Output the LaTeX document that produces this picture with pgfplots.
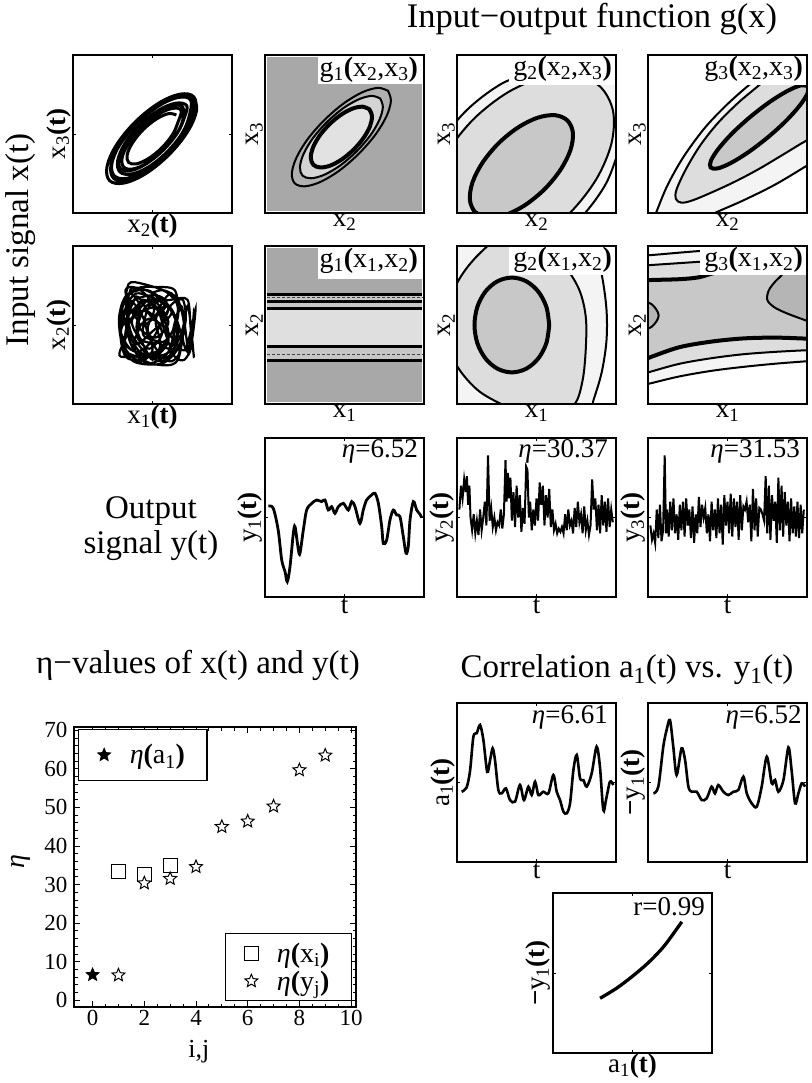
\documentclass[border=0pt]{standalone}
\usepackage{fontspec}
\setmainfont{Liberation Serif}
\usepackage{pgfplots}
\pgfplotsset{compat=1.18}
\newcommand{\lab}{\fontsize{27}{30}\selectfont}
\newcommand{\glab}{\fontsize{28}{30}\selectfont}
\newcommand{\titf}{\fontsize{33}{36}\selectfont}
\newcommand{\toptf}{\fontsize{34.5}{37}\selectfont}
\newcommand{\bigf}{\fontsize{33}{36}\selectfont}
\newcommand{\tickf}{\fontsize{23}{26}\selectfont}
\newcommand{\legf}{\fontsize{28}{30}\selectfont}
\newcommand{\B}[1]{\textbf{#1}}
\newcommand{\sub}[1]{\textsubscript{#1}}
\definecolor{cA}{gray}{0.66}
\definecolor{cA2}{gray}{0.69}
\definecolor{cB}{gray}{0.785}
\definecolor{cC}{gray}{0.865}
\definecolor{cD}{gray}{0.955}
\definecolor{cE}{gray}{0.71}
\definecolor{cG1}{gray}{0.83}
\definecolor{cG2}{gray}{0.885}
\definecolor{cH}{gray}{0.78}
\definecolor{cI}{gray}{0.875}
\pgfdeclareplotmark{pstar}{%
 \pgfpathmoveto{\pgfpointpolar{90}{\pgfplotmarksize}}%
 \pgfpathlineto{\pgfpointscale{0.45}{\pgfpointpolar{126}{\pgfplotmarksize}}}%
 \pgfpathlineto{\pgfpointpolar{162}{\pgfplotmarksize}}%
 \pgfpathlineto{\pgfpointscale{0.45}{\pgfpointpolar{198}{\pgfplotmarksize}}}%
 \pgfpathlineto{\pgfpointpolar{234}{\pgfplotmarksize}}%
 \pgfpathlineto{\pgfpointscale{0.45}{\pgfpointpolar{270}{\pgfplotmarksize}}}%
 \pgfpathlineto{\pgfpointpolar{306}{\pgfplotmarksize}}%
 \pgfpathlineto{\pgfpointscale{0.45}{\pgfpointpolar{342}{\pgfplotmarksize}}}%
 \pgfpathlineto{\pgfpointpolar{18}{\pgfplotmarksize}}%
 \pgfpathlineto{\pgfpointscale{0.45}{\pgfpointpolar{54}{\pgfplotmarksize}}}%
 \pgfpathclose
 \pgfusepathqfillstroke}
\pgfplotsset{
 pan/.style={anchor=north west, width=159pt, height=158pt, scale only axis,
  xmin=0,xmax=1,ymin=0,ymax=1, axis line style={line width=2.3pt},
  xtick=\empty, ytick=\empty, label style={font=\lab},
  xlabel style={at={(axis description cs:0.5,0)}, anchor=north, inner sep=1pt},
  ylabel style={at={(axis description cs:0,0.5)}, anchor=south, inner sep=2pt},
  axis on top},
 tk/.style={xtick={0.5}, ytick={0.5}, xticklabels={}, yticklabels={}, major tick length=3pt, tick style={line width=0.9pt, black}},
 cthin/.style={draw=black, line width=2pt, smooth, tension=0.55},
 cthick/.style={draw=black, line width=4pt, smooth, tension=0.55},
}
\begin{document}
\begin{tikzpicture}
\useasboundingbox (0,0) rectangle (811pt,-1083pt);
% ---------- titles ----------
\node[font=\toptf, anchor=base] at (592pt,-28pt) {Input−output function g(x)};
\node[font=\bigf, rotate=90, anchor=base] at (28pt,-240pt) {Input signal x(t)};
\node[font=\titf, anchor=base] at (151pt,-518pt) {Output};
\node[font=\titf, anchor=base] at (151pt,-553pt) {signal y(t)};
\node[font=\titf, anchor=base] at (198pt,-673pt) {η−values of x(t) and y(t)};
\node[font=\titf, anchor=base] at (627pt,-677pt) {Correlation a\sub{1}(t) vs. y\sub{1}(t)};
% ---------- row 1 ----------
\begin{axis}[pan, tk, at={(73pt,-55pt)}, xlabel={x\sub{2}\B{(t)}}, ylabel={x\sub{3}\B{(t)}}]
\addplot[line width=3pt, smooth, tension=0.6] coordinates {
(0.65,0.62) (0.601,0.629) (0.525,0.595) (0.442,0.528) (0.375,0.445) (0.341,0.369) (0.35,0.32) (0.399,0.311) (0.475,0.345) (0.558,0.412) (0.625,0.495) (0.659,0.571)
(0.68,0.65) (0.621,0.661) (0.529,0.621) (0.43,0.54) (0.349,0.441) (0.309,0.349) (0.32,0.29) (0.379,0.279) (0.471,0.319) (0.57,0.40) (0.651,0.499) (0.691,0.591)
(0.69,0.67) (0.6265,0.6815) (0.5275,0.6375) (0.42,0.55) (0.3325,0.4425) (0.2885,0.3435) (0.30,0.28) (0.3635,0.2685) (0.4625,0.3125) (0.57,0.40) (0.6575,0.5075) (0.7015,0.6065)
(0.715,0.68) (0.645,0.695) (0.536,0.649) (0.42,0.555) (0.326,0.439) (0.281,0.331) (0.295,0.26) (0.366,0.246) (0.474,0.291) (0.59,0.385) (0.684,0.501) (0.730,0.610)
(0.74,0.715) (0.661,0.731) (0.538,0.677) (0.405,0.57) (0.298,0.437) (0.245,0.315) (0.26,0.235) (0.340,0.220) (0.462,0.273) (0.595,0.38) (0.702,0.513) (0.756,0.636)
(0.755,0.72) (0.6715,0.7365) (0.543,0.6816) (0.405,0.57) (0.293,0.4316) (0.2385,0.3035) (0.255,0.22) (0.3385,0.2035) (0.4676,0.2584) (0.605,0.37) (0.7166,0.5084) (0.7715,0.6365)
(0.76,0.735) (0.672,0.752) (0.537,0.694) (0.39,0.575) (0.272,0.429) (0.214,0.294) (0.23,0.205) (0.319,0.189) (0.454,0.247) (0.60,0.365) (0.719,0.512) (0.777,0.647) (0.76,0.735)};
\end{axis}
\begin{axis}[pan, at={(265pt,-55pt)}, xmin=-0.012, xmax=1.012, ymin=-0.012, ymax=1.012, xlabel={x\sub{2}}, ylabel={x\sub{3}}]
\addplot[fill=cA, draw=none] coordinates {(0,0) (1,0) (1,1) (0,1)} -- cycle;
\addplot[cthin, fill=cA2] coordinates {(0.78,0.78) (0.715,0.799) (0.614,0.77) (0.493,0.697) (0.37,0.59) (0.263,0.467) (0.19,0.346) (0.161,0.245) (0.18,0.18) (0.245,0.161) (0.346,0.19) (0.467,0.263) (0.59,0.37) (0.697,0.493) (0.77,0.614) (0.799,0.715) (0.78,0.78)} -- cycle;
\addplot[cthin, fill=cG1] coordinates {(0.73,0.73) (0.675,0.747) (0.59,0.724) (0.488,0.664) (0.385,0.575) (0.296,0.472) (0.236,0.37) (0.213,0.285) (0.23,0.23) (0.285,0.213) (0.37,0.236) (0.472,0.296) (0.575,0.385) (0.664,0.488) (0.724,0.59) (0.747,0.675) (0.73,0.73)} -- cycle;
\addplot[cthick, fill=cG2] coordinates {(0.66,0.66) (0.615,0.677) (0.55,0.664) (0.475,0.623) (0.40,0.56) (0.337,0.485) (0.296,0.41) (0.283,0.345) (0.30,0.30) (0.345,0.283) (0.41,0.296) (0.485,0.337) (0.56,0.40) (0.623,0.475) (0.664,0.55) (0.677,0.615) (0.66,0.66)} -- cycle;
\fill[white] (axis cs:0.33,0.823) rectangle (axis cs:1.012,1.012);
\node[anchor=base east, font=\glab, inner sep=0pt] at (axis cs:0.975,0.873) {g\sub{1}\B{(}x\sub{2},x\sub{3}\B{)}};
\end{axis}
\begin{axis}[pan, at={(457pt,-55pt)}, xlabel={x\sub{2}}, ylabel={x\sub{3}}]
\addplot[cthin, fill=cD] coordinates {(-0.219,-0.061) (-0.125,-0.235) (0.049,-0.329) (0.2775,-0.3275) (0.525,-0.231) (0.755,-0.055) (0.931,0.175) (1.0275,0.4225) (1.12,0.66) (1.15,1.1) (0.8,1.15) (0.5325,0.9175) (0.285,0.821) (0.055,0.645) (-0.121,0.415) (-0.2175,0.1675) (-0.219,-0.061)} -- cycle;
\addplot[cthin, fill=cC] coordinates {(-0.095,-0.205) (0.058,-0.282) (0.2635,-0.2705) (0.4905,-0.1735) (0.705,-0.005) (0.8735,0.2095) (0.9705,0.4365) (0.982,0.642) (0.905,0.795) (0.752,0.872) (0.5465,0.8605) (0.3195,0.7635) (0.105,0.595) (-0.0635,0.3805) (-0.1605,0.1535) (-0.172,-0.052) (-0.095,-0.205)} -- cycle;
\addplot[cthick, fill=cB] coordinates {(0.193,-0.029) (0.303,-0.013) (0.428,0.05) (0.55,0.15) (0.65,0.272) (0.713,0.397) (0.729,0.507) (0.695,0.585) (0.617,0.619) (0.507,0.603) (0.382,0.54) (0.26,0.44) (0.16,0.318) (0.097,0.193) (0.081,0.083) (0.115,0.005) (0.193,-0.029)} -- cycle;
\fill[white] (axis cs:0.327,0.81) rectangle (axis cs:1,1);
\node[anchor=base east, font=\glab, inner sep=0pt] at (axis cs:0.975,0.873) {g\sub{2}\B{(}x\sub{2},x\sub{3}\B{)}};
\end{axis}
\begin{axis}[pan, at={(648pt,-55pt)}, xlabel={x\sub{2}}, ylabel={x\sub{3}}]
\addplot[cthin, fill=cD] coordinates {(-0.05,-0.25) (0.02,-0.07) (0.05,0.0) (0.12,0.17) (0.22,0.35) (0.35,0.53) (0.48,0.67) (0.60,0.78) (0.72,0.88) (0.82,0.97) (0.9,1.08) (1.0,1.2) (1.3,1.2) (1.3,0.45) (1.1,0.36) (1.0,0.30) (0.8,0.18) (0.6,0.08) (0.42,0.0) (0.33,-0.05) (0.15,-0.25) (-0.05,-0.25)} -- cycle;
\addplot[cthin, fill=cC] coordinates {(1.3,0.60) (1.1,0.50) (1.0,0.46) (0.85,0.37) (0.7,0.28) (0.55,0.2) (0.40,0.13) (0.28,0.08) (0.21,0.065) (0.175,0.09) (0.18,0.15) (0.24,0.28) (0.33,0.43) (0.44,0.57) (0.57,0.70) (0.70,0.81) (0.80,0.9) (0.9,1.05) (1.0,1.2) (1.3,1.2) (1.3,0.60)} -- cycle;
\addplot[cthick, fill=cB] coordinates {(1.006,0.802) (0.962,0.808) (0.878,0.773) (0.767,0.704) (0.645,0.610) (0.532,0.507) (0.445,0.409) (0.396,0.332) (0.394,0.288) (0.438,0.282) (0.522,0.317) (0.633,0.386) (0.755,0.480) (0.868,0.583) (0.955,0.681) (1.004,0.758) (1.006,0.802)} -- cycle;
\fill[white] (axis cs:0.327,0.81) rectangle (axis cs:1,1);
\node[anchor=base east, font=\glab, inner sep=0pt] at (axis cs:0.975,0.873) {g\sub{3}\B{(}x\sub{2},x\sub{3}\B{)}};
\end{axis}
% ---------- row 2 ----------
\begin{axis}[pan, tk, at={(73pt,-246pt)}, xlabel={x\sub{1}\B{(t)}}, ylabel={x\sub{2}\B{(t)}}]
\addplot[line width=2.2pt, smooth, tension=0.5] coordinates {
(0.45,0.50) (0.58,0.62) (0.40,0.70) (0.32,0.55) (0.42,0.33) (0.60,0.30) (0.66,0.48) (0.55,0.68) (0.36,0.64) (0.30,0.42) (0.38,0.27) (0.57,0.26) (0.68,0.40) (0.62,0.60) (0.47,0.72) (0.33,0.68) (0.29,0.50) (0.36,0.35) (0.52,0.30) (0.64,0.36) (0.70,0.55) (0.60,0.70) (0.44,0.76) (0.35,0.76) (0.34,0.60) (0.48,0.58) (0.56,0.45) (0.48,0.35) (0.40,0.44) (0.46,0.62) (0.62,0.66) (0.72,0.66) (0.74,0.48) (0.76,0.30) (0.72,0.62) (0.66,0.28) (0.52,0.25) (0.40,0.30) (0.31,0.36) (0.31,0.62) (0.40,0.73) (0.52,0.74) (0.64,0.72) (0.66,0.55) (0.58,0.40) (0.44,0.40) (0.37,0.52) (0.44,0.66) (0.56,0.56) (0.60,0.44) (0.54,0.34) (0.43,0.28) (0.33,0.30) (0.30,0.46) (0.38,0.60) (0.50,0.66) (0.60,0.52) (0.52,0.42) (0.42,0.48) (0.48,0.54) (0.57,0.49) (0.70,0.34) (0.77,0.60) (0.73,0.32) (0.68,0.62) (0.60,0.33) (0.46,0.26) (0.35,0.42) (0.36,0.72) (0.50,0.70) (0.62,0.58) (0.50,0.46) (0.40,0.38) (0.34,0.48) (0.42,0.58) (0.55,0.60) (0.58,0.36)
(0.30,0.30) (0.34,0.45) (0.31,0.60) (0.36,0.70) (0.42,0.62) (0.40,0.48) (0.45,0.36) (0.50,0.28) (0.55,0.38) (0.52,0.52) (0.56,0.64) (0.62,0.70) (0.66,0.60) (0.63,0.46) (0.67,0.33) (0.62,0.27) (0.56,0.30) (0.48,0.42) (0.44,0.55) (0.38,0.64) (0.32,0.66) (0.29,0.55) (0.30,0.42) (0.35,0.32) (0.43,0.27) (0.50,0.34) (0.47,0.48) (0.51,0.60) (0.45,0.70) (0.38,0.74) (0.33,0.72) (0.36,0.60) (0.42,0.50) (0.38,0.38) (0.42,0.30) (0.53,0.31) (0.60,0.40) (0.58,0.54) (0.62,0.63) (0.69,0.66) (0.71,0.54) (0.69,0.42) (0.72,0.33) (0.75,0.45) (0.76,0.58) (0.74,0.36) (0.70,0.28) (0.64,0.30) (0.58,0.45) (0.54,0.58) (0.48,0.66) (0.40,0.58) (0.34,0.50) (0.33,0.38) (0.40,0.33) (0.48,0.38) (0.55,0.50) (0.60,0.60) (0.55,0.68) (0.47,0.60) (0.44,0.44) (0.52,0.40) (0.60,0.35) (0.65,0.42) (0.64,0.55) (0.58,0.62) (0.50,0.55) (0.45,0.62) (0.40,0.68) (0.35,0.56) (0.37,0.44) (0.46,0.32) (0.56,0.27) (0.66,0.36) (0.70,0.48) (0.66,0.66) (0.57,0.72) (0.49,0.70)};
\end{axis}
\begin{axis}[pan, at={(265pt,-246pt)}, xmin=-0.012, xmax=1.012, ymin=-0.012, ymax=1.012, xlabel={x\sub{1}}, ylabel={x\sub{2}}]
\addplot[fill=cA, draw=none] coordinates {(0,0) (1,0) (1,1) (0,1)} -- cycle;
\addplot[fill=cH, draw=none] coordinates {(0,0.268) (1,0.268) (1,0.363) (0,0.363)} -- cycle;
\addplot[fill=cH, draw=none] coordinates {(0,0.606) (1,0.606) (1,0.70) (0,0.70)} -- cycle;
\addplot[fill=cI, draw=none] coordinates {(0,0.363) (1,0.363) (1,0.606) (0,0.606)} -- cycle;
\addplot[line width=3pt] coordinates {(0,0.70) (1,0.70)};
\addplot[line width=3pt] coordinates {(0,0.652) (1,0.652)};
\addplot[line width=3pt] coordinates {(0,0.606) (1,0.606)};
\addplot[line width=3pt] coordinates {(0,0.363) (1,0.363)};
\addplot[line width=3pt] coordinates {(0,0.268) (1,0.268)};
\addplot[line width=1.3pt, black!75, densely dashed] coordinates {(0,0.679) (1,0.679)};
\addplot[line width=1.3pt, black!75, densely dashed] coordinates {(0,0.31) (1,0.31)};
\fill[white] (axis cs:0.33,0.80) rectangle (axis cs:1.012,1.012);
\node[anchor=base east, font=\glab, inner sep=0pt] at (axis cs:0.975,0.873) {g\sub{1}\B{(}x\sub{1},x\sub{2}\B{)}};
\end{axis}
\begin{axis}[pan, at={(457pt,-246pt)}, xlabel={x\sub{1}}, ylabel={x\sub{2}}]
\addplot[cthin, fill=cD] coordinates {(0.5,1.35) (0.78,1.12) (0.86,1.0) (0.91,0.82) (0.94,0.6) (0.94,0.4) (0.91,0.2) (0.86,0.03) (0.82,-0.08) (0.6,-0.35) (-0.35,-0.35) (-0.35,1.35) (0.5,1.35)} -- cycle;
\addplot[cthin, fill=cC] coordinates {(0.3,1.10) (0.12,0.93) (0.02,0.80) (-0.05,0.65) (-0.07,0.5) (-0.05,0.35) (0.02,0.21) (0.14,0.08) (0.30,-0.01) (0.45,-0.06) (0.62,-0.05) (0.74,0.0) (0.79,0.15) (0.81,0.35) (0.81,0.55) (0.77,0.72) (0.68,0.87) (0.55,1.0) (0.45,1.10) (0.3,1.10)} -- cycle;
\addplot[cthick, fill=cB] coordinates {(0.58,0.5) (0.562,0.615) (0.511,0.712) (0.435,0.777) (0.345,0.80) (0.255,0.777) (0.179,0.712) (0.128,0.615) (0.11,0.5) (0.128,0.385) (0.179,0.288) (0.255,0.223) (0.345,0.2) (0.435,0.223) (0.511,0.288) (0.562,0.385) (0.58,0.5)} -- cycle;
\fill[white] (axis cs:0.33,0.816) rectangle (axis cs:1,1);
\node[anchor=base east, font=\glab, inner sep=0pt] at (axis cs:0.975,0.873) {g\sub{2}\B{(}x\sub{1},x\sub{2}\B{)}};
\end{axis}
\begin{axis}[pan, at={(648pt,-246pt)}, xlabel={x\sub{1}}, ylabel={x\sub{2}}]
\addplot[cthin, fill=cD] coordinates {(-0.2,0.935) (-0.05,0.94) (0.025,0.943) (0.32,0.968) (0.6,0.985) (1.05,0.99) (1.2,0.99) (1.2,0.285) (1.05,0.275) (0.99,0.27) (0.8,0.255) (0.6,0.235) (0.4,0.21) (0.2,0.175) (0.025,0.133) (-0.05,0.115) (-0.2,0.08) (-0.2,0.935)} -- cycle;
\addplot[cthin, fill=cC] coordinates {(-0.2,0.86) (-0.05,0.875) (0.025,0.88) (0.32,0.90) (0.6,0.92) (1.05,0.93) (1.2,0.93) (1.2,0.345) (1.05,0.342) (0.99,0.34) (0.8,0.33) (0.6,0.315) (0.4,0.29) (0.2,0.255) (0.025,0.207) (-0.05,0.185) (-0.2,0.14) (-0.2,0.86)} -- cycle;
\addplot[cthick, fill=cB] coordinates {(-0.2,0.775) (-0.05,0.782) (0.025,0.785) (0.2,0.79) (0.32,0.802) (0.42,0.83) (0.6,0.86) (1.05,0.87) (1.2,0.87) (1.2,0.41) (1.05,0.412) (0.99,0.414) (0.8,0.42) (0.6,0.415) (0.4,0.395) (0.2,0.36) (0.025,0.30) (-0.05,0.27) (-0.2,0.21) (-0.2,0.775)} -- cycle;
\addplot[cthin, fill=cE] coordinates {(0.9,0.95) (0.85,0.83) (0.80,0.775) (0.76,0.72) (0.75,0.66) (0.79,0.615) (0.87,0.575) (0.99,0.53) (1.05,0.51) (1.2,0.47) (1.2,0.95) (0.9,0.95)} -- cycle;
\addplot[cthin, fill=cE] coordinates {(-0.2,0.70) (-0.05,0.655) (0.025,0.63) (0.067,0.56) (0.025,0.49) (-0.05,0.465) (-0.2,0.42) (-0.2,0.70)} -- cycle;
\fill[white] (axis cs:0.33,0.816) rectangle (axis cs:1,1);
\node[anchor=base east, font=\glab, inner sep=0pt] at (axis cs:0.975,0.873) {g\sub{3}\B{(}x\sub{1},x\sub{2}\B{)}};
\end{axis}
% ---------- row 3 ----------
\begin{axis}[pan, tk, height=159pt, at={(265pt,-438pt)}, xlabel={t}, ylabel={y\sub{1}\B{(t)}}]
\addplot[line width=2.8pt, smooth, tension=0.5] coordinates {(0.021,0.572) (0.052,0.558) (0.083,0.421) (0.105,0.233) (0.126,0.159) (0.140,0.096) (0.157,0.189) (0.178,0.399) (0.189,0.442) (0.210,0.296) (0.220,0.275) (0.241,0.421) (0.262,0.547) (0.294,0.589) (0.325,0.610) (0.356,0.600) (0.377,0.610) (0.398,0.547) (0.419,0.568) (0.440,0.526) (0.461,0.568) (0.493,0.589) (0.524,0.547) (0.545,0.600) (0.566,0.568) (0.597,0.463) (0.618,0.547) (0.639,0.610) (0.671,0.642) (0.692,0.652) (0.713,0.589) (0.734,0.442) (0.744,0.337) (0.765,0.358) (0.786,0.484) (0.807,0.547) (0.828,0.516) (0.849,0.505) (0.870,0.379) (0.887,0.275) (0.901,0.317) (0.912,0.484) (0.933,0.600) (0.954,0.547) (0.975,0.52) (0.985,0.50)};
\node[anchor=base east, font=\lab, inner sep=0pt] at (rel axis cs:0.962,0.88) {{\itshape η}=6.52};
\end{axis}
\begin{axis}[pan, tk, height=159pt, at={(457pt,-438pt)}, xlabel={t}, ylabel={y\sub{2}\B{(t)}}]
\addplot[line width=2pt] coordinates {(0.015,0.55) (0.025,0.70) (0.035,0.62) (0.045,0.74) (0.055,0.66) (0.062,0.76) (0.07,0.58) (0.078,0.70) (0.085,0.50) (0.095,0.42) (0.105,0.52) (0.115,0.40) (0.125,0.48) (0.135,0.39) (0.145,0.55) (0.155,0.42) (0.165,0.50) (0.175,0.60) (0.185,0.45) (0.195,0.89) (0.205,0.48) (0.215,0.56) (0.225,0.44) (0.235,0.50) (0.245,0.42) (0.255,0.47) (0.265,0.45) (0.275,0.55) (0.285,0.43) (0.295,0.52) (0.305,0.86) (0.312,0.60) (0.32,0.78) (0.328,0.62) (0.336,0.75) (0.345,0.48) (0.355,0.66) (0.365,0.44) (0.375,0.70) (0.385,0.50) (0.395,0.64) (0.405,0.41) (0.415,0.56) (0.425,0.46) (0.435,0.82) (0.443,0.80) (0.452,0.50) (0.46,0.60) (0.47,0.42) (0.48,0.55) (0.49,0.45) (0.50,0.62) (0.51,0.48) (0.52,0.72) (0.53,0.58) (0.54,0.70) (0.55,0.45) (0.56,0.64) (0.57,0.50) (0.58,0.68) (0.59,0.44) (0.60,0.55) (0.61,0.42) (0.62,0.46) (0.63,0.40) (0.64,0.43) (0.65,0.41) (0.66,0.44) (0.67,0.40) (0.68,0.52) (0.69,0.42) (0.70,0.55) (0.71,0.45) (0.72,0.48) (0.73,0.40) (0.74,0.56) (0.75,0.44) (0.76,0.60) (0.77,0.47) (0.78,0.52) (0.79,0.40) (0.80,0.57) (0.81,0.42) (0.82,0.48) (0.83,0.39) (0.84,0.45) (0.85,0.74) (0.86,0.55) (0.87,0.62) (0.88,0.42) (0.89,0.58) (0.90,0.40) (0.91,0.64) (0.92,0.45) (0.93,0.60) (0.94,0.41) (0.95,0.62) (0.96,0.44) (0.97,0.55) (0.98,0.47)};
\node[anchor=base east, font=\lab, inner sep=0pt] at (rel axis cs:0.95,0.88) {{\itshape η}=30.37};
\end{axis}
\begin{axis}[pan, tk, height=159pt, at={(648pt,-438pt)}, xlabel={t}, ylabel={y\sub{3}\B{(t)}}]
\addplot[line width=2pt] coordinates {(0.015,0.45) (0.025,0.36) (0.035,0.40) (0.045,0.34) (0.055,0.55) (0.065,0.37) (0.075,0.58) (0.085,0.35) (0.095,0.42) (0.105,0.89) (0.113,0.40) (0.12,0.55) (0.13,0.38) (0.14,0.60) (0.15,0.42) (0.16,0.62) (0.17,0.40) (0.18,0.52) (0.19,0.36) (0.20,0.58) (0.21,0.42) (0.22,0.60) (0.23,0.38) (0.24,0.62) (0.25,0.45) (0.26,0.55) (0.27,0.37) (0.28,0.57) (0.29,0.34) (0.30,0.52) (0.31,0.40) (0.32,0.63) (0.33,0.44) (0.34,0.58) (0.35,0.50) (0.36,0.56) (0.37,0.40) (0.38,0.52) (0.39,0.35) (0.40,0.60) (0.41,0.42) (0.42,0.55) (0.43,0.37) (0.44,0.62) (0.45,0.40) (0.46,0.58) (0.47,0.33) (0.48,0.64) (0.49,0.45) (0.50,0.60) (0.51,0.40) (0.52,0.65) (0.53,0.38) (0.54,0.62) (0.55,0.44) (0.56,0.60) (0.57,0.36) (0.58,0.64) (0.59,0.42) (0.60,0.57) (0.61,0.55) (0.62,0.60) (0.63,0.47) (0.64,0.58) (0.65,0.35) (0.66,0.68) (0.67,0.42) (0.68,0.62) (0.69,0.38) (0.70,0.56) (0.71,0.55) (0.72,0.52) (0.73,0.48) (0.74,0.76) (0.75,0.40) (0.76,0.70) (0.77,0.36) (0.78,0.64) (0.79,0.48) (0.80,0.60) (0.81,0.34) (0.82,0.75) (0.83,0.42) (0.84,0.70) (0.85,0.38) (0.86,0.66) (0.87,0.45) (0.88,0.60) (0.89,0.35) (0.90,0.62) (0.91,0.40) (0.92,0.57) (0.93,0.38) (0.94,0.60) (0.95,0.37) (0.96,0.58) (0.97,0.40) (0.98,0.55)};
\node[anchor=base east, font=\lab, inner sep=0pt] at (rel axis cs:0.956,0.88) {{\itshape η}=31.53};
\end{axis}
% ---------- eta plot ----------
\begin{axis}[at={(74pt,-727pt)}, anchor=north west, width=282pt, height=280pt, scale only axis,
 xmin=-0.72, xmax=10.19, ymin=-1.74, ymax=70.86,
 xtick={0,2,...,10}, ytick={0,10,...,70}, minor x tick num=3, minor y tick num=4,
 tick align=inside, major tick length=6pt, minor tick length=3.5pt,
 tick style={line width=1pt, black}, axis line style={line width=2.4pt},
 ticklabel style={font=\tickf}, /pgf/number format/assume math mode=true,
 yticklabel style={xshift=-3pt},
 xlabel={i,j}, xlabel style={at={(axis description cs:0.443,0)}, anchor=base, yshift=-50pt, font=\fontsize{26}{28}\selectfont},
 ylabel={\itshape η}, ylabel style={at={(axis description cs:-0.155,0.52)}, anchor=south, inner sep=0pt, font=\legf},
 legend image code/.code={\path (0pt,0pt) (44pt,0pt); \draw[#1] plot coordinates {(21pt,0pt)};},
 legend style={at={(0.014,0.993)}, anchor=north west, draw=black, line width=1.2pt, font=\legf, inner xsep=4pt, inner ysep=13pt, nodes={inner sep=2pt}, cells={anchor=west}}]
\addplot[only marks, mark=pstar, mark size=6.8pt, mark options={fill=black, line width=0.8pt}] coordinates {(0,6.61)};
\addlegendentry{{\itshape η}\B{(}a\sub{1}\B{)}\hspace*{16pt}\mbox{}}
\end{axis}
\begin{axis}[at={(74pt,-727pt)}, anchor=north west, width=282pt, height=280pt, scale only axis,
 xmin=-0.72, xmax=10.19, ymin=-1.74, ymax=70.86, hide axis,
 legend image code/.code={\path (0pt,0pt) (44pt,0pt); \draw[#1] plot coordinates {(21pt,0pt)};},
 legend style={at={(0.986,0.021)}, anchor=south east, draw=black, line width=1.2pt, font=\legf, inner xsep=4pt, inner ysep=7pt, row sep=3pt, nodes={inner sep=2pt}, cells={anchor=west}}]
\addplot[only marks, mark=square, mark size=7pt, mark options={line width=1pt}] coordinates {(1,33.4) (2,32.6) (3,34.9)};
\addlegendentry{{\itshape η}\B{(}x\sub{i}\B{)}\hspace*{16pt}\mbox{}}
\addplot[only marks, mark=pstar, mark size=6.8pt, mark options={fill=white, line width=1pt}] coordinates {(1,6.52) (2,30.37) (3,31.53) (4,34.6) (5,45.0) (6,46.4) (7,50.3) (8,59.7) (9,63.5)};
\addlegendentry{{\itshape η}\B{(}y\sub{j}\B{)}\hspace*{16pt}\mbox{}}
\end{axis}
% ---------- correlation ----------
\begin{axis}[pan, tk, height=159pt, at={(457pt,-703pt)}, xlabel={t}, ylabel={a\sub{1}\B{(t)}}]
\addplot[line width=2.6pt, smooth, tension=0.5] coordinates {(0.029,0.442) (0.06,0.468) (0.082,0.573) (0.103,0.788) (0.124,0.81) (0.145,0.862) (0.166,0.767) (0.19,0.567) (0.208,0.64) (0.224,0.715) (0.239,0.64) (0.26,0.453) (0.281,0.432) (0.308,0.463) (0.333,0.39) (0.365,0.38) (0.396,0.485) (0.421,0.39) (0.449,0.474) (0.47,0.421) (0.491,0.505) (0.512,0.421) (0.543,0.442) (0.575,0.432) (0.606,0.547) (0.627,0.442) (0.648,0.39) (0.669,0.317) (0.69,0.306) (0.711,0.369) (0.732,0.578) (0.753,0.673) (0.774,0.526) (0.795,0.515) (0.816,0.474) (0.847,0.557) (0.878,0.725) (0.899,0.599) (0.92,0.327) (0.937,0.39) (0.962,0.505) (0.983,0.484)};
\node[anchor=base east, font=\lab, inner sep=0pt] at (rel axis cs:0.95,0.874) {{\itshape η}=6.61};
\end{axis}
\begin{axis}[pan, tk, height=159pt, at={(648pt,-703pt)}, xlabel={t}, ylabel={\B{−}y\sub{1}\B{(t)}}]
\addplot[line width=2.6pt, smooth, tension=0.5] coordinates {(0.034,0.432) (0.065,0.474) (0.096,0.725) (0.117,0.83) (0.138,0.893) (0.159,0.725) (0.18,0.547) (0.211,0.715) (0.233,0.642) (0.254,0.474) (0.275,0.442) (0.306,0.442) (0.338,0.39) (0.369,0.40) (0.4,0.474) (0.421,0.432) (0.442,0.484) (0.474,0.442) (0.505,0.421) (0.537,0.442) (0.568,0.453) (0.6,0.537) (0.621,0.432) (0.652,0.369) (0.684,0.348) (0.715,0.474) (0.747,0.662) (0.778,0.495) (0.799,0.516) (0.82,0.442) (0.852,0.516) (0.883,0.721) (0.904,0.568) (0.925,0.369) (0.946,0.432) (0.967,0.495) (0.988,0.474)};
\node[anchor=base east, font=\lab, inner sep=0pt] at (rel axis cs:0.967,0.874) {{\itshape η}=6.52};
\end{axis}
\begin{axis}[pan, tk, height=160pt, at={(553pt,-893pt)}, xlabel={a\sub{1}\B{(t)}}, ylabel={\B{−}y\sub{1}\B{(t)}}]
\addplot[line width=3.3pt, smooth] coordinates {(0.296,0.342) (0.4,0.405) (0.5,0.48) (0.6,0.565) (0.7,0.67) (0.81,0.82)};
\node[anchor=base east, font=\lab, inner sep=0pt] at (rel axis cs:0.956,0.862) {r=0.99};
\end{axis}
\end{tikzpicture}
\end{document}
